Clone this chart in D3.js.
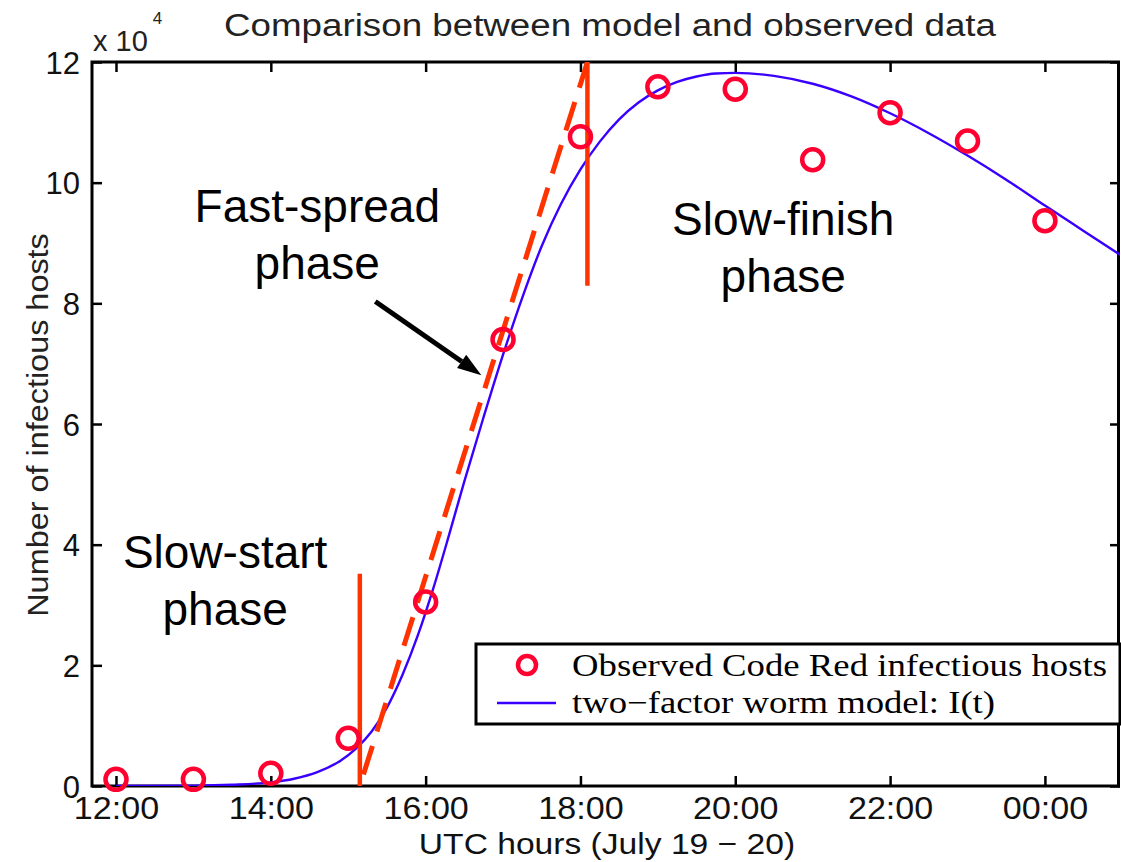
<!DOCTYPE html>
<html>
<head>
<meta charset="utf-8">
<script src="https://cdn.jsdelivr.net/npm/d3@7"></script>
<style>
  body { margin: 0; background: #fff; }
  svg { display: block; }
</style>
</head>
<body>
<div id="chart"></div>
<script>
// x axis ticks (hours since midnight July 19, 24 = 00:00 July 20)
var hourTicks = [12, 14, 16, 18, 20, 22, 24];
var hourLabels = ["12:00", "14:00", "16:00", "18:00", "20:00", "22:00", "00:00"];
var hostTicks = [0, 2, 4, 6, 8, 10, 12];

// observed Code Red infectious hosts (x 10^4)
var obsHours = [12, 13, 14, 15, 16, 17, 18, 19, 20, 21, 22, 23, 24];
var obsHosts = [0.11, 0.11, 0.21, 0.79, 3.05, 7.4, 10.76, 11.59, 11.55, 10.38, 11.16, 10.69, 9.37];

// two-factor worm model I(t) (x 10^4)
var modelHours = [12, 13, 13.5, 14, 14.3, 14.6, 14.9, 15.1, 15.3, 15.5, 15.7, 15.9, 16.1, 16.3, 16.5,
                  16.75, 17, 17.25, 17.5, 17.75, 18, 18.25, 18.5, 18.75, 19, 19.25, 19.5, 19.75, 20,
                  20.5, 21, 21.5, 22, 22.5, 23, 23.5, 24, 24.5, 25];
var modelHosts = [0, 0.005, 0.02, 0.06, 0.12, 0.23, 0.42, 0.62, 0.9, 1.3, 1.84, 2.5, 3.28, 4.15, 5.05,
                  6.12, 7.15, 8.1, 8.95, 9.65, 10.22, 10.68, 11.05, 11.33, 11.53, 11.67, 11.76, 11.81, 11.82,
                  11.77, 11.64, 11.43, 11.15, 10.82, 10.45, 10.05, 9.62, 9.2, 8.78];

// fast-spread tangent and phase boundaries
var tangentHours = [15.15, 18.09];
var tangentHosts = [0, 12];
var boundaryHours = [15.15, 18.09];
var boundaryLow = [0, 8.29];
var boundaryHigh = [3.52, 12];

// phase annotations (anchor of first line)
var phaseNames = [["Fast-spread", "phase"], ["Slow-finish", "phase"], ["Slow-start", "phase"]];
var phaseHours = [14.6, 20.62, 13.41];
var phaseHosts = [9.35, 9.13, 3.61];
var arrowHours = [15.35, 16.72];
var arrowHosts = [8.03, 6.81];

var width = 1121, height = 862;
var margin = {left: 92, right: 1, top: 62, bottom: 76};

var svg = d3.select("#chart").append("svg")
    .attr("width", width)
    .attr("height", height);

var x = d3.scaleLinear().domain([11.69, 24.97]).range([margin.left, width - margin.right]);
var y = d3.scaleLinear().domain([0, 12]).range([height - margin.bottom, margin.top]);

var sans = "'Liberation Sans', Arial, sans-serif";
var serif = "'Liberation Serif', 'Times New Roman', serif";

// stretch text horizontally a bit
function widen(sel, k) {
    sel.each(function () {
        var len = this.getComputedTextLength();
        d3.select(this).attr("textLength", len * k).attr("lengthAdjust", "spacingAndGlyphs");
    });
}

svg.append("defs").append("clipPath").attr("id", "plot")
    .append("rect")
    .attr("x", x.range()[0]).attr("y", y.range()[1])
    .attr("width", x.range()[1] - x.range()[0])
    .attr("height", y.range()[0] - y.range()[1]);

// axes: ticks inside, mirrored on top / right
var bottomAxis = d3.axisBottom(x).tickValues(hourTicks).tickSizeInner(-10).tickSizeOuter(0)
    .tickFormat(function (d, i) { return hourLabels[i]; }).tickPadding(11);
var topAxis = d3.axisTop(x).tickValues(hourTicks).tickSizeInner(-10).tickSizeOuter(0).tickFormat("");
var leftAxis = d3.axisLeft(y).tickValues(hostTicks).tickSizeInner(-10).tickSizeOuter(0).tickPadding(12);
var rightAxis = d3.axisRight(y).tickValues(hostTicks).tickSizeInner(-10).tickSizeOuter(0).tickFormat("");

var gx = svg.append("g").attr("transform", "translate(0," + y(0) + ")").call(bottomAxis);
svg.append("g").attr("transform", "translate(0," + y(12) + ")").call(topAxis);
var gy = svg.append("g").attr("transform", "translate(" + x.range()[0] + ",0)").call(leftAxis);
svg.append("g").attr("transform", "translate(" + x.range()[1] + ",0)").call(rightAxis);

svg.selectAll(".domain").remove();
svg.selectAll(".tick line").attr("stroke", "#000").attr("stroke-width", 2.5);
svg.selectAll(".tick text").attr("font-family", sans).attr("font-size", 31).attr("fill", "#111");
gx.selectAll(".tick text").attr("dy", "0.71em").call(widen, 1.1);
gy.selectAll(".tick text").attr("dy", "0.36em");

svg.append("rect")
    .attr("x", x.range()[0]).attr("y", y.range()[1])
    .attr("width", x.range()[1] - x.range()[0] - 1.5)
    .attr("height", y.range()[0] - y.range()[1])
    .attr("fill", "none").attr("stroke", "#000").attr("stroke-width", 3);

// exponent label
var expo = svg.append("text")
    .attr("x", 93).attr("y", 51)
    .attr("font-family", sans).attr("font-size", 29).attr("fill", "#222");
expo.append("tspan").text("x 10");
expo.append("tspan").attr("dy", -27).attr("dx", 5).attr("font-size", 17).text("4");

svg.append("text")
    .attr("x", 610).attr("y", 36)
    .attr("text-anchor", "middle")
    .attr("font-family", sans).attr("font-size", 31).attr("fill", "#222")
    .attr("textLength", 772).attr("lengthAdjust", "spacingAndGlyphs")
    .text("Comparison between model and observed data");

svg.append("text")
    .attr("x", 607).attr("y", 854)
    .attr("text-anchor", "middle")
    .attr("font-family", sans).attr("font-size", 30).attr("fill", "#111")
    .text("UTC hours (July 19 \u2212 20)")
    .call(widen, 1.12);

svg.append("text")
    .attr("transform", "translate(48,425) rotate(-90)")
    .attr("text-anchor", "middle")
    .attr("font-family", sans).attr("font-size", 30).attr("fill", "#222")
    .text("Number of infectious hosts")
    .call(widen, 1.08);

var plot = svg.append("g").attr("clip-path", "url(#plot)");

// model curve
var model = modelHours.map(function (h, i) { return [h, modelHosts[i]]; });
plot.append("path")
    .datum(model)
    .attr("fill", "none")
    .attr("stroke", "#3a00ff")
    .attr("stroke-width", 2.4)
    .attr("d", d3.line().x(function (d) { return x(d[0]); }).y(function (d) { return y(d[1]); })
        .curve(d3.curveMonotoneX));

// tangent of the fast-spread phase
plot.append("line")
    .attr("x1", x(tangentHours[0])).attr("y1", y(tangentHosts[0]))
    .attr("x2", x(tangentHours[1])).attr("y2", y(tangentHosts[1]))
    .attr("stroke", "#ff3300").attr("stroke-width", 5)
    .attr("stroke-dasharray", "30,15").attr("stroke-dashoffset", -12);

// phase boundaries
svg.selectAll("line.bound")
    .data(boundaryHours)
    .enter().append("line")
    .attr("class", "bound")
    .attr("x1", function (d) { return x(d); }).attr("x2", function (d) { return x(d); })
    .attr("y1", function (d, i) { return y(boundaryLow[i]); })
    .attr("y2", function (d, i) { return y(boundaryHigh[i]); })
    .attr("stroke", "#ff3300").attr("stroke-width", 4.5);

// observed points
svg.selectAll("circle.obs")
    .data(obsHours)
    .enter().append("circle")
    .attr("class", "obs")
    .attr("cx", function (d) { return x(d); })
    .attr("cy", function (d, i) { return y(obsHosts[i]); })
    .attr("r", 10.5)
    .attr("fill", "none")
    .attr("stroke", "#ff0030")
    .attr("stroke-width", 4.5);

// phase labels
phaseNames.forEach(function (lines, i) {
    var t = svg.append("text")
        .attr("text-anchor", "middle")
        .attr("font-family", sans).attr("font-size", 46).attr("fill", "#000");
    lines.forEach(function (s, j) {
        t.append("tspan")
            .attr("x", x(phaseHours[i]))
            .attr("y", y(phaseHosts[i]) + j * 57)
            .text(s);
    });
});

// arrow pointing at the fast-spread part
var ax0 = x(arrowHours[0]), ay0 = y(arrowHosts[0]);
var ax1 = x(arrowHours[1]), ay1 = y(arrowHosts[1]);
var ang = Math.atan2(ay1 - ay0, ax1 - ax0);
var headLen = 24, headHalf = 8;
var bx = ax1 - headLen * Math.cos(ang), by = ay1 - headLen * Math.sin(ang);
svg.append("line")
    .attr("x1", ax0).attr("y1", ay0).attr("x2", bx).attr("y2", by)
    .attr("stroke", "#000").attr("stroke-width", 5);
svg.append("path")
    .attr("d", "M" + ax1 + "," + ay1 +
        "L" + (bx + headHalf * Math.sin(ang)) + "," + (by - headHalf * Math.cos(ang)) +
        "L" + (bx - headHalf * Math.sin(ang)) + "," + (by + headHalf * Math.cos(ang)) + "Z")
    .attr("fill", "#000");

// legend
var legend = svg.append("g").attr("transform", "translate(476,644)");
legend.append("rect")
    .attr("width", 644).attr("height", 80)
    .attr("fill", "#fff").attr("stroke", "#000").attr("stroke-width", 3);
legend.append("circle")
    .attr("cx", 51).attr("cy", 21).attr("r", 9)
    .attr("fill", "none").attr("stroke", "#ff0030").attr("stroke-width", 4.5);
legend.append("line")
    .attr("x1", 21).attr("x2", 80).attr("y1", 59).attr("y2", 59)
    .attr("stroke", "#3a00ff").attr("stroke-width", 2.4);
legend.append("text")
    .attr("x", 96).attr("y", 32)
    .attr("font-family", serif).attr("font-size", 31).attr("fill", "#000")
    .attr("textLength", 535).attr("lengthAdjust", "spacingAndGlyphs")
    .text("Observed Code Red infectious hosts");
legend.append("text")
    .attr("x", 96).attr("y", 69)
    .attr("font-family", serif).attr("font-size", 31).attr("fill", "#000")
    .attr("textLength", 423).attr("lengthAdjust", "spacingAndGlyphs")
    .text("two\u2212factor worm model: I(t)");
</script>
</body>
</html>
